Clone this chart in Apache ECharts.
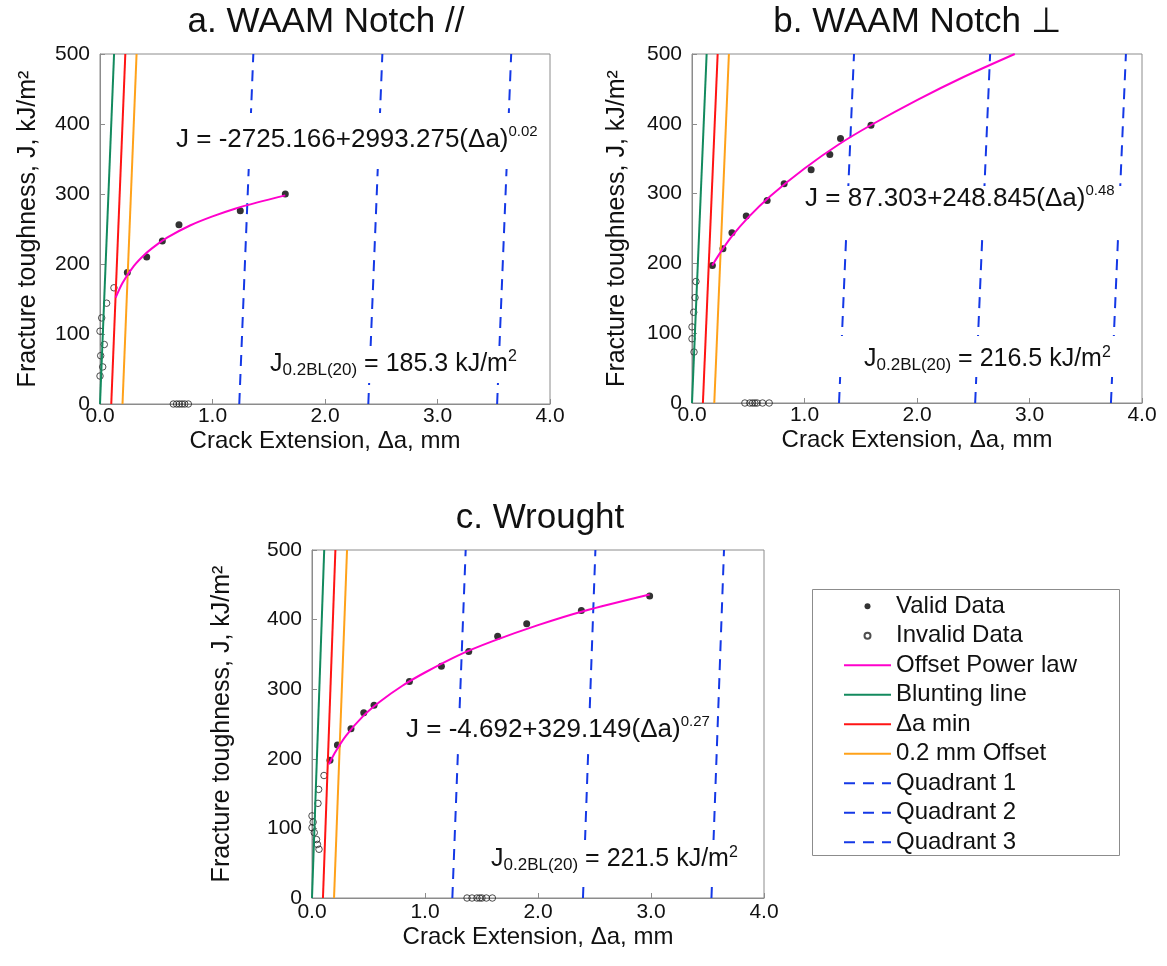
<!DOCTYPE html>
<html><head><meta charset="utf-8">
<script src="https://cdn.jsdelivr.net/npm/echarts@6/dist/echarts.min.js"></script>
<style>html,body{margin:0;padding:0;background:#fff}#c{width:1167px;height:966px}</style>
</head><body><div id="c"></div>
<script>
const FONT = '"Liberation Sans", Arial, Helvetica, sans-serif';
const TXT = '#111111';
const GREY = '#8c8c8c';

// ---- tick labels ----
const xTickLabels = ['0.0', '1.0', '2.0', '3.0', '4.0'];
const yTickLabels = ['0', '100', '200', '300', '400', '500'];
const lineJ = [0, 500];

// ---- a. WAAM Notch // ----
const aValidDa = [0.243, 0.415, 0.554, 0.702, 1.247, 1.647];
const aValidJ = [188, 210, 233, 256, 276, 300];
const aInvalidDa = [0.124, 0.059, 0.015, 0.0, 0.038, 0.006, 0.024, 0.0, 0.652, 0.681, 0.705, 0.729, 0.753, 0.785];
const aInvalidJ = [166, 144, 123, 104, 85, 69, 53, 40, 0, 0, 0, 0, 0, 0];
const aFitDa = [0.139, 0.2, 0.3, 0.4, 0.5, 0.6, 0.8, 1.0, 1.2, 1.4, 1.647];
const aFitJ = [152, 173, 197, 214, 227, 238, 255, 268, 279, 288, 298];
const aBluntDa = [0, 0.125];
const aMinDa = [0.1, 0.225];
const aOffDa = [0.2, 0.325];
const aQ1Da = [1.238, 1.363];
const aQ2Da = [2.385, 2.51];
const aQ3Da = [3.53, 3.655];

// ---- b. WAAM Notch ⊥ ----
const bValidDa = [0.181, 0.275, 0.355, 0.482, 0.668, 0.819, 1.059, 1.225, 1.32, 1.591];
const bValidJ = [197, 221, 244, 268, 290, 314, 334, 356, 379, 398];
const bInvalidDa = [0.035, 0.027, 0.015, 0.0, 0.0, 0.018, 0.47, 0.514, 0.538, 0.559, 0.579, 0.627, 0.686];
const bInvalidJ = [174, 151, 130, 109, 92, 73, 0, 0, 0, 0, 0, 0, 0];
const bFitDa = [0.18, 0.25, 0.35, 0.5, 0.7, 1.0, 1.3, 1.6, 2.0, 2.4, 2.869];
const bFitJ = [197, 215, 238, 266, 297, 336, 370, 399, 434, 466, 500];
const bBluntDa = [0, 0.13];
const bMinDa = [0.097, 0.228];
const bOffDa = [0.198, 0.328];
const bQ1Da = [1.307, 1.44];
const bQ2Da = [2.517, 2.65];
const bQ3Da = [3.724, 3.857];

// ---- c. Wrought ----
const cValidDa = [0.159, 0.225, 0.345, 0.458, 0.549, 0.862, 1.145, 1.387, 1.643, 1.90, 2.384, 2.988];
const cValidJ = [198, 220, 243, 266, 277, 311, 333, 354, 376, 394, 413, 434];
const cInvalidDa = [0.106, 0.059, 0.053, 0.0, 0.01, 0.0, 0.02, 0.04, 0.048, 0.062, 1.372, 1.416, 1.46, 1.484, 1.504, 1.543, 1.596];
const cInvalidJ = [176, 156, 136, 118, 109, 101, 94, 84, 77, 70, 0, 0, 0, 0, 0, 0, 0];
const cFitDa = [0.15, 0.2, 0.3, 0.45, 0.6, 0.8, 1.0, 1.3, 1.6, 2.0, 2.4, 2.988];
const cFitJ = [192, 208, 233, 261, 282, 305, 324, 349, 369, 392, 412, 436];
const cBluntDa = [0, 0.108];
const cMinDa = [0.097, 0.207];
const cOffDa = [0.195, 0.31];
const cQ1Da = [1.242, 1.36];
const cQ2Da = [2.398, 2.508];
const cQ3Da = [3.535, 3.646];

const zip = (xs, ys) => xs.map((x, i) => [x, ys[i]]);

const panels = [
  {valid: [aValidDa, aValidJ], invalid: [aInvalidDa, aInvalidJ], fit: [aFitDa, aFitJ],
   blunt: aBluntDa, min: aMinDa, off: aOffDa, q: [aQ1Da, aQ2Da, aQ3Da]},
  {valid: [bValidDa, bValidJ], invalid: [bInvalidDa, bInvalidJ], fit: [bFitDa, bFitJ],
   blunt: bBluntDa, min: bMinDa, off: bOffDa, q: [bQ1Da, bQ2Da, bQ3Da]},
  {valid: [cValidDa, cValidJ], invalid: [cInvalidDa, cInvalidJ], fit: [cFitDa, cFitJ],
   blunt: cBluntDa, min: cMinDa, off: cOffDa, q: [cQ1Da, cQ2Da, cQ3Da]}
];

const COL = {fit: '#ff00cc', blunt: '#138a5e', min: '#ff1414', off: '#ffa21a', quad: '#1438e6'};

const gridBoxes = [
  {left: 100, top: 54, width: 450, height: 350, yNameGap: 59, xMargin: 2, xNameGap: 25},
  {left: 692, top: 54, width: 450, height: 349, yNameGap: 62, xMargin: 2, xNameGap: 25},
  {left: 312, top: 550, width: 452, height: 348, yNameGap: 77, xMargin: 4, xNameGap: 27}
];

const grid = gridBoxes.map(g => ({left: g.left, top: g.top, width: g.width, height: g.height,
  show: true, borderColor: GREY, borderWidth: 1, backgroundColor: 'transparent'}));

const xAxis = gridBoxes.map((g, i) => ({
  type: 'value', gridIndex: i, min: 0, max: 4, interval: 1,
  name: 'Crack Extension, Δa, mm', nameLocation: 'middle', nameGap: g.xNameGap,
  nameTextStyle: {fontSize: 24, color: TXT, fontFamily: FONT},
  axisLine: {show: true, lineStyle: {color: GREY, width: 1}},
  axisTick: {show: true, inside: true, length: 5, lineStyle: {color: GREY}},
  axisLabel: {margin: g.xMargin, fontSize: 21, color: TXT, fontFamily: FONT,
    formatter: v => xTickLabels[Math.round(v)]},
  splitLine: {show: false}
}));

const yAxis = gridBoxes.map((g, i) => ({
  type: 'value', gridIndex: i, min: 0, max: 500, interval: 100,
  name: 'Fracture toughness, J, kJ/m²', nameLocation: 'middle', nameGap: g.yNameGap, nameRotate: 90,
  nameTextStyle: {fontSize: 25, color: TXT, fontFamily: FONT},
  axisLine: {show: true, lineStyle: {color: GREY, width: 1}},
  axisTick: {show: true, inside: true, length: 5, lineStyle: {color: GREY}},
  axisLabel: {margin: 10, fontSize: 21, color: TXT, fontFamily: FONT,
    formatter: v => yTickLabels[Math.round(v / 100)]},
  splitLine: {show: false}
}));

function lineSeries(name, gi, xs, color, dashed) {
  return {
    name, type: 'line', xAxisIndex: gi, yAxisIndex: gi, data: zip(xs, lineJ),
    symbol: 'none', silent: true, animation: false,
    lineStyle: {color, width: 2, type: dashed ? [11, 8] : 'solid'},
    itemStyle: {color}
  };
}

const series = [];
panels.forEach((p, gi) => {
  series.push(lineSeries('Quadrant 1', gi, p.q[0], COL.quad, true));
  series.push(lineSeries('Quadrant 2', gi, p.q[1], COL.quad, true));
  series.push(lineSeries('Quadrant 3', gi, p.q[2], COL.quad, true));
  series.push(lineSeries('Blunting line', gi, p.blunt, COL.blunt, false));
  series.push(lineSeries('Δa min', gi, p.min, COL.min, false));
  series.push(lineSeries('0.2 mm Offset', gi, p.off, COL.off, false));
  series.push({
    name: 'Offset Power law', type: 'line', xAxisIndex: gi, yAxisIndex: gi,
    data: zip(p.fit[0], p.fit[1]), smooth: 0.3, symbol: 'none', silent: true, animation: false,
    lineStyle: {color: COL.fit, width: 2}, itemStyle: {color: COL.fit}
  });
  series.push({
    name: 'Invalid Data', type: 'scatter', xAxisIndex: gi, yAxisIndex: gi,
    data: zip(p.invalid[0], p.invalid[1]), symbol: 'circle', symbolSize: 6.5, clip: false,
    silent: true, animation: false,
    itemStyle: {color: 'rgba(255,255,255,0)', borderColor: '#222', borderWidth: 1}
  });
  series.push({
    name: 'Valid Data', type: 'scatter', xAxisIndex: gi, yAxisIndex: gi,
    data: zip(p.valid[0], p.valid[1]), symbol: 'circle', symbolSize: 7,
    silent: true, animation: false, itemStyle: {color: '#000'}
  });
});

// ---- text annotations ----
const titles = [
  {text: 'a. WAAM Notch //', x: 326, y: 22},
  {text: 'b. WAAM Notch ⊥', x: 917, y: 22},
  {text: 'c. Wrought', x: 540, y: 518}
];
const eqTexts = [
  {main: 'J = -2725.166+2993.275(Δa)', exp: '0.02', x: 176, y: 124.5},
  {main: 'J = 87.303+248.845(Δa)', exp: '0.48', x: 805, y: 183.4},
  {main: 'J = -4.692+329.149(Δa)', exp: '0.27', x: 406, y: 714.7}
];
const jicTexts = [
  {value: '185.3', x: 270, y: 348.8},
  {value: '216.5', x: 864, y: 344.3},
  {value: '221.5', x: 491, y: 844.3}
];
const maskBoxes = [
  [170, 113, 378, 56], [262, 346, 268, 37],
  [798, 186, 327, 52], [838, 336, 287, 41],
  [400, 712, 312, 40], [485, 840, 260, 43]
];

const graphic = [];
titles.forEach(t => graphic.push({
  type: 'text', x: t.x, y: t.y, silent: true, z: 60,
  style: {text: t.text, fontSize: 35, fontFamily: FONT, fill: TXT, align: 'center', verticalAlign: 'middle'}
}));
maskBoxes.forEach(b => graphic.push({
  type: 'rect', silent: true, z: 50,
  shape: {x: b[0], y: b[1], width: b[2], height: b[3]}, style: {fill: '#ffffff'}
}));
eqTexts.forEach(t => graphic.push({
  type: 'text', x: t.x, y: t.y, silent: true, z: 60,
  style: {
    text: '{m|' + t.main + '}{s|' + t.exp + '}', align: 'left', verticalAlign: 'top',
    rich: {
      m: {fontSize: 26, lineHeight: 31, fontFamily: FONT, fill: TXT},
      s: {fontSize: 15, lineHeight: 25, verticalAlign: 'top', fontFamily: FONT, fill: TXT}
    }
  }
}));
jicTexts.forEach(t => graphic.push({
  type: 'text', x: t.x, y: t.y, silent: true, z: 60,
  style: {
    text: '{m|J}{sb|0.2BL(20)}{m| = ' + t.value + ' kJ/m}{sp|2}', align: 'left', verticalAlign: 'top',
    rich: {
      m: {fontSize: 25, lineHeight: 30, fontFamily: FONT, fill: TXT},
      sb: {fontSize: 17, lineHeight: 10, verticalAlign: 'bottom', fontFamily: FONT, fill: TXT},
      sp: {fontSize: 16, lineHeight: 23, verticalAlign: 'top', fontFamily: FONT, fill: TXT}
    }
  }
}));
// legend frame
graphic.push({
  type: 'rect', silent: true, z: 1,
  shape: {x: 812.5, y: 589.5, width: 307, height: 266},
  style: {fill: '#ffffff', stroke: GREY, lineWidth: 1}
});

const legendNames = ['Valid Data', 'Invalid Data', 'Offset Power law', 'Blunting line', 'Δa min',
  '0.2 mm Offset', 'Quadrant 1', 'Quadrant 2', 'Quadrant 3'];

const option = {
  backgroundColor: '#ffffff',
  animation: false,
  grid, xAxis, yAxis, series, graphic,
  legend: {
    orient: 'vertical', left: 843, top: 591.5, padding: 0, itemGap: 0,
    itemWidth: 47, itemHeight: 6, selectedMode: false, z: 10,
    textStyle: {fontSize: 24, lineHeight: 29.5, color: TXT, fontFamily: FONT},
    data: legendNames.map((n, i) => i < 2 ? {name: n} : {name: n, itemStyle: {opacity: 0}})
  }
};

const chart = echarts.init(document.getElementById('c'), null, {renderer: 'canvas'});
chart.setOption(option);
</script></body></html>
